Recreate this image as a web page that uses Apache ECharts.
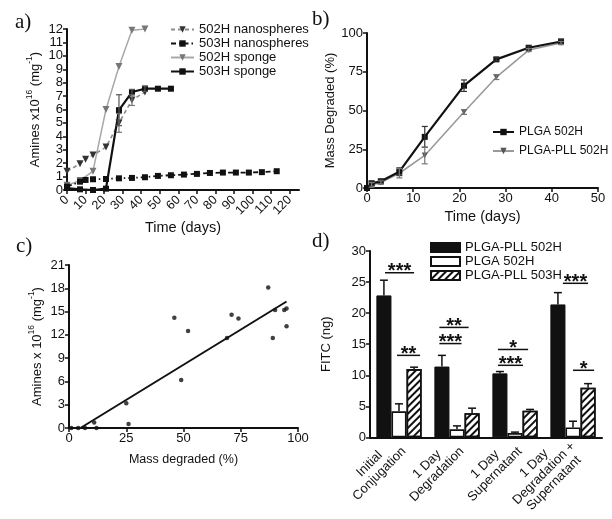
<!DOCTYPE html>
<html><head><meta charset="utf-8">
<script src="https://cdn.jsdelivr.net/npm/echarts@6/dist/echarts.min.js"></script>
<style>html,body{margin:0;padding:0;background:#fff}#c{width:612px;height:519px}</style>
</head><body><div id="c"></div>
<script>
// ---------- Panel a: amines vs time ----------
const aDays502N = [0, 7, 10, 14, 21, 28, 35, 42];
const aVal502N  = [1.4, 1.95, 2.3, 2.6, 3.2, 5.0, 6.7, 7.3];
const aErr502N  = [0, 0, 0, 0, 0, 0.7, 0.4, 0];
const aDays503N = [0, 7, 10, 14, 21, 28, 35, 42, 49, 56, 63, 70, 77, 84, 91, 98, 105, 113];
const aVal503N  = [0.25, 0.62, 0.75, 0.8, 0.82, 0.87, 0.9, 0.95, 1.05, 1.1, 1.15, 1.2, 1.27, 1.3, 1.3, 1.3, 1.33, 1.4];
const aDays502S = [0, 7, 14, 21, 28, 35, 42];
const aVal502S  = [0.35, 0.7, 1.4, 6.0, 9.2, 11.9, 12.0];
const aDays503S = [0, 7, 14, 21, 28, 35, 42, 49, 56];
const aVal503S  = [0.15, 0.05, 0.0, 0.1, 5.95, 7.3, 7.55, 7.55, 7.55];
const aErr503S  = [0, 0, 0, 0, 1.15, 0.2, 0.2, 0, 0];
const aXTicks   = [0, 10, 20, 30, 40, 50, 60, 70, 80, 90, 100, 110, 120];
const aLegend   = ['502H nanospheres', '503H nanospheres', '502H sponge', '503H sponge'];

// ---------- Panel b: mass degraded ----------
const bDays    = [0, 1, 3, 7, 12.5, 21, 28, 35, 42];
const bPLGA    = [0, 3, 4.3, 10.5, 33, 66, 83, 90.5, 94.5];
const bPLGAErr = [0, 1.5, 1.5, 2.5, 6.7, 3.7, 1, 1, 1.5];
const bPLL     = [0, 2, 3.6, 9.5, 21, 49, 71.5, 89, 93.5];
const bPLLErr  = [0, 1.5, 1, 3, 5.4, 1.5, 1.5, 1, 1];
const bLegend  = ['PLGA 502H', 'PLGA-PLL 502H'];

// ---------- Panel c: amines vs mass degraded ----------
const cX   = [1, 4, 7, 12, 11, 25, 26, 46, 49, 52, 69, 71, 74, 87, 89, 90, 94, 95, 95];
const cY   = [0, 0, 0, 0, 0.7, 3.2, 0.5, 14.2, 6.2, 12.5, 11.6, 14.6, 14.1, 18.1, 11.6, 15.2, 15.2, 15.4, 13.1];
const fitX = [5, 95];
const fitY = [0, 16.3];

// ---------- Panel d: FITC bars ----------
const dCats       = ['Initial\nConjugation', '1 Day\nDegradation', '1 Day\nSupernatant', '1 Day\nDegradation +\nSupernatant'];
const dPLL502     = [22.85, 11.4, 10.3, 21.4];
const dPLL502Err  = [2.45, 1.8, 0.3, 1.9];
const dPLGA502    = [4.2, 1.3, 0.7, 1.6];
const dPLGA502Err = [1.2, 0.55, 0.15, 1.0];
const dPLL503     = [11.0, 3.9, 4.3, 8.0];
const dPLL503Err  = [0.3, 0.8, 0.2, 0.65];
const dLegend     = ['PLGA-PLL 502H', 'PLGA 502H', 'PLGA-PLL 503H'];
// significance brackets: category, level, start/end in bar units (-1 black, 0 white, 1 hatched), text
const sigCat  = [0, 0, 1, 1, 2, 2, 3, 3];
const sigY    = [26.5, 13.2, 17.7, 15.1, 14.15, 11.6, 24.8, 10.8];
const sigFrom = [-0.93, -0.13, -1.17, -1.17, -1.13, -1.13, -0.67, 0];
const sigTo   = [1.0, 1.4, 0.77, 0.3, 0.87, 0.53, 1.0, 1.4];
const sigText = ['***', '**', '**', '***', '*', '***', '***', '*'];

const FONT = 'Liberation Sans';
const INK = '#111';
const TRI = 'path://M0,0 L10,0 L5,9 Z';
const DPFX = 'd\u200b';   // internal prefix so panel-d series names differ from panel-b names
const zip = (xs, ys) => xs.map((x, i) => [x, ys[i]]);
const errData = (xs, ys, es) => xs.map((x, i) => [x, ys[i], es[i]]).filter(d => d[2] > 0);

function axisCommon(extra) {
  return Object.assign({
    axisLine: { show: true, onZero: false, lineStyle: { color: INK, width: 2 } },
    axisTick: { show: true, length: 4, lineStyle: { color: INK, width: 1.5 } },
    axisLabel: { color: INK, fontFamily: FONT, fontSize: 13, margin: 4 },
    splitLine: { show: false },
    nameLocation: 'middle',
    nameTextStyle: { color: INK, fontFamily: FONT, fontSize: 14.5 }
  }, extra);
}
function supName(parts) {
  return parts.map(p => p[1] ? '{s|' + p[0] + '}' : '{m|' + p[0] + '}').join('');
}
const supRich = {
  m: { fontFamily: FONT, fontSize: 13, lineHeight: 20, color: INK },
  s: { fontFamily: FONT, fontSize: 8.5, verticalAlign: 'top', lineHeight: 9, color: INK }
};

function errSeries(xi, data, color, cap) {
  return {
    type: 'custom', xAxisIndex: xi, yAxisIndex: xi, data: data, z: 4, silent: true, clip: false,
    renderItem: function (params, api) {
      const x = api.value(0), y = api.value(1), e = api.value(2);
      const t = api.coord([x, y + e]), b = api.coord([x, y - e]);
      const st = { stroke: color, lineWidth: 1.2 };
      return { type: 'group', children: [
        { type: 'line', shape: { x1: t[0], y1: t[1], x2: b[0], y2: b[1] }, style: st },
        { type: 'line', shape: { x1: t[0] - cap, y1: t[1], x2: t[0] + cap, y2: t[1] }, style: st },
        { type: 'line', shape: { x1: b[0] - cap, y1: b[1], x2: b[0] + cap, y2: b[1] }, style: st }
      ] };
    }
  };
}
const BAR_FRAC = 0.78;
function barErrData() {
  const out = [];
  [[dPLL502, dPLL502Err], [dPLGA502, dPLGA502Err], [dPLL503, dPLL503Err]].forEach((s, k) => {
    s[0].forEach((v, i) => out.push([i, v, s[1][i], k - 1]));
  });
  return out;
}

const chart = echarts.init(document.getElementById('c'), null, { renderer: 'canvas' });
const option = {
  animation: false,
  backgroundColor: '#fff',
  title: [
    { text: 'a)', left: 15, top: 12, padding: 0, textStyle: { fontFamily: 'Liberation Serif', fontSize: 21, fontWeight: 'normal', color: INK } },
    { text: 'b)', left: 312, top: 9, padding: 0, textStyle: { fontFamily: 'Liberation Serif', fontSize: 21, fontWeight: 'normal', color: INK } },
    { text: 'c)', left: 16, top: 236, padding: 0, textStyle: { fontFamily: 'Liberation Serif', fontSize: 21, fontWeight: 'normal', color: INK } },
    { text: 'd)', left: 312, top: 231, padding: 0, textStyle: { fontFamily: 'Liberation Serif', fontSize: 21, fontWeight: 'normal', color: INK } }
  ],
  grid: [
    { left: 67, top: 29, width: 232, height: 161 },
    { left: 367, top: 33, width: 231, height: 155 },
    { left: 69, top: 265, width: 229, height: 163 },
    { left: 370, top: 251, width: 232, height: 187 }
  ],
  legend: [
    { data: aLegend, orient: 'vertical', left: 165, top: 18, itemWidth: 23, itemHeight: 8, itemGap: 1,
      textStyle: { fontFamily: FONT, fontSize: 13, color: INK, lineHeight: 13 }, selectedMode: false },
    { data: bLegend, orient: 'vertical', left: 487, top: 121, itemWidth: 21, itemHeight: 8, itemGap: 7,
      textStyle: { fontFamily: FONT, fontSize: 12, color: INK }, selectedMode: false },
    { data: dLegend.map(n => DPFX + n), orient: 'vertical', left: 425, top: 236, itemWidth: 29, itemHeight: 9, itemGap: 1, icon: 'rect',
      formatter: n => n.replace(DPFX, ''),
      textStyle: { fontFamily: FONT, fontSize: 13, color: INK, lineHeight: 13 }, selectedMode: false }
  ],
  xAxis: [
    axisCommon({ gridIndex: 0, type: 'value', min: 0, max: 125, name: 'Time (days)', nameGap: 19,
      axisLabel: { color: INK, fontFamily: FONT, fontSize: 12.5, margin: 8, rotate: 45, customValues: aXTicks },
      axisTick: { show: true, length: 4, lineStyle: { color: INK, width: 1.5 }, customValues: aXTicks } }),
    axisCommon({ gridIndex: 1, type: 'value', min: 0, max: 50, interval: 10, name: 'Time (days)', nameGap: 21 }),
    axisCommon({ gridIndex: 2, type: 'value', min: 0, max: 100, interval: 25, name: 'Mass degraded (%)', nameGap: 25,
      nameTextStyle: { color: INK, fontFamily: FONT, fontSize: 12.5 } }),
    axisCommon({ gridIndex: 3, type: 'category', data: dCats,
      axisTick: { show: false },
      axisLabel: { color: INK, fontFamily: FONT, fontSize: 13, margin: 7, rotate: 45, interval: 0,
        formatter: v => v.split('\n').map(s => '{c|' + s + '}').join('\n'),
        rich: { c: { align: 'center', fontFamily: FONT, fontSize: 13, color: INK, lineHeight: 14 } } } })
  ],
  yAxis: [
    axisCommon({ gridIndex: 0, type: 'value', min: 0, max: 12, interval: 1, nameGap: 22,
      name: supName([['Amines x10'], ['16', 1], [' (mg'], ['-1', 1], [')']]),
      nameTextStyle: { rich: supRich } }),
    axisCommon({ gridIndex: 1, type: 'value', min: 0, max: 100, interval: 25, name: 'Mass Degraded (%)', nameGap: 29,
      nameTextStyle: { color: INK, fontFamily: FONT, fontSize: 13 } }),
    axisCommon({ gridIndex: 2, type: 'value', min: 0, max: 21, interval: 3, nameGap: 22,
      name: supName([['Amines x 10'], ['16', 1], [' (mg'], ['-1', 1], [')']]),
      nameTextStyle: { rich: supRich } }),
    axisCommon({ gridIndex: 3, type: 'value', min: 0, max: 30, interval: 5, name: 'FITC (ng)', nameGap: 37,
      nameTextStyle: { color: INK, fontFamily: FONT, fontSize: 13 } })
  ],
  series: [
    { name: aLegend[0], type: 'line', xAxisIndex: 0, yAxisIndex: 0, data: zip(aDays502N, aVal502N),
      symbol: TRI, symbolSize: 7, lineStyle: { color: '#8c8c8c', width: 1.6, type: [4, 3] }, itemStyle: { color: '#333' }, z: 3 },
    { name: aLegend[1], type: 'line', xAxisIndex: 0, yAxisIndex: 0, data: zip(aDays503N, aVal503N),
      symbol: 'rect', symbolSize: 6, lineStyle: { color: INK, width: 1.8, type: [5, 3, 1.5, 3] }, itemStyle: { color: INK }, z: 3 },
    { name: aLegend[2], type: 'line', xAxisIndex: 0, yAxisIndex: 0, data: zip(aDays502S, aVal502S),
      symbol: TRI, symbolSize: 7, lineStyle: { color: '#a8a8a8', width: 1.5 }, itemStyle: { color: '#777' }, z: 2 },
    { name: aLegend[3], type: 'line', xAxisIndex: 0, yAxisIndex: 0, data: zip(aDays503S, aVal503S),
      symbol: 'rect', symbolSize: 6, lineStyle: { color: INK, width: 2.2 }, itemStyle: { color: INK }, z: 3 },
    errSeries(0, errData(aDays502N, aVal502N, aErr502N), '#777', 3),
    errSeries(0, errData(aDays503S, aVal503S, aErr503S), '#555', 3),

    { name: bLegend[0], type: 'line', xAxisIndex: 1, yAxisIndex: 1, data: zip(bDays, bPLGA),
      symbol: 'rect', symbolSize: 6, lineStyle: { color: INK, width: 2.2 }, itemStyle: { color: INK }, z: 3 },
    { name: bLegend[1], type: 'line', xAxisIndex: 1, yAxisIndex: 1, data: zip(bDays, bPLL),
      symbol: TRI, symbolSize: 6, lineStyle: { color: '#9a9a9a', width: 1.6 }, itemStyle: { color: '#555' }, z: 2 },
    errSeries(1, errData(bDays, bPLGA, bPLGAErr), '#333', 3),
    errSeries(1, errData(bDays, bPLL, bPLLErr), '#777', 3),

    { type: 'scatter', xAxisIndex: 2, yAxisIndex: 2, data: zip(cX, cY), symbol: 'circle', symbolSize: 4.5,
      itemStyle: { color: INK }, z: 3 },
    { type: 'line', xAxisIndex: 2, yAxisIndex: 2, data: zip(fitX, fitY), symbol: 'none',
      lineStyle: { color: INK, width: 2 }, z: 2 },

    { name: DPFX + dLegend[0], type: 'bar', xAxisIndex: 3, yAxisIndex: 3, data: dPLL502, barGap: '0%', barCategoryGap: '22%',
      itemStyle: { color: INK, borderColor: INK, borderWidth: 1 } },
    { name: DPFX + dLegend[1], type: 'bar', xAxisIndex: 3, yAxisIndex: 3, data: dPLGA502, barGap: '0%', barCategoryGap: '22%',
      itemStyle: { color: '#fff', borderColor: INK, borderWidth: 1.6 } },
    { name: DPFX + dLegend[2], type: 'bar', xAxisIndex: 3, yAxisIndex: 3, data: dPLL503, barGap: '0%', barCategoryGap: '22%',
      itemStyle: { color: '#fff', borderColor: INK, borderWidth: 1.6,
        decal: { symbol: 'rect', symbolSize: 1, dashArrayX: [1, 0], dashArrayY: [2, 3], rotation: -Math.PI / 4, color: INK } } },
    { type: 'custom', xAxisIndex: 3, yAxisIndex: 3, data: barErrData(), z: 5, silent: true, clip: false,
      renderItem: function (params, api) {
        const c = api.coord([api.value(0), api.value(1)]);
        const top = api.coord([api.value(0), api.value(1) + api.value(2)]);
        const bw = api.size([1, 0])[0] * BAR_FRAC / 3;
        const x = c[0] + api.value(3) * bw;
        const st = { stroke: INK, lineWidth: 1.5 };
        return { type: 'group', children: [
          { type: 'line', shape: { x1: x, y1: c[1], x2: x, y2: top[1] }, style: st },
          { type: 'line', shape: { x1: x - 4, y1: top[1], x2: x + 4, y2: top[1] }, style: st }
        ] };
      } },
    { type: 'custom', xAxisIndex: 3, yAxisIndex: 3, z: 5, silent: true, clip: false,
      data: sigCat.map((c, i) => [c, sigY[i], sigFrom[i], sigTo[i]]),
      renderItem: function (params, api) {
        const c = api.coord([api.value(0), api.value(1)]);
        const bw = api.size([1, 0])[0] * BAR_FRAC / 3;
        const x1 = c[0] + api.value(2) * bw, x2 = c[0] + api.value(3) * bw;
        return { type: 'group', children: [
          { type: 'line', shape: { x1: x1, y1: c[1], x2: x2, y2: c[1] }, style: { stroke: INK, lineWidth: 1.5 } },
          { type: 'text', x: (x1 + x2) / 2, y: c[1] - 1,
            style: { text: sigText[params.dataIndex], fontFamily: FONT, fontSize: 20, fontWeight: 'bold', fill: INK, align: 'center', verticalAlign: 'middle' } }
        ] };
      } }
  ]
};
chart.setOption(option);
</script>
</body></html>
